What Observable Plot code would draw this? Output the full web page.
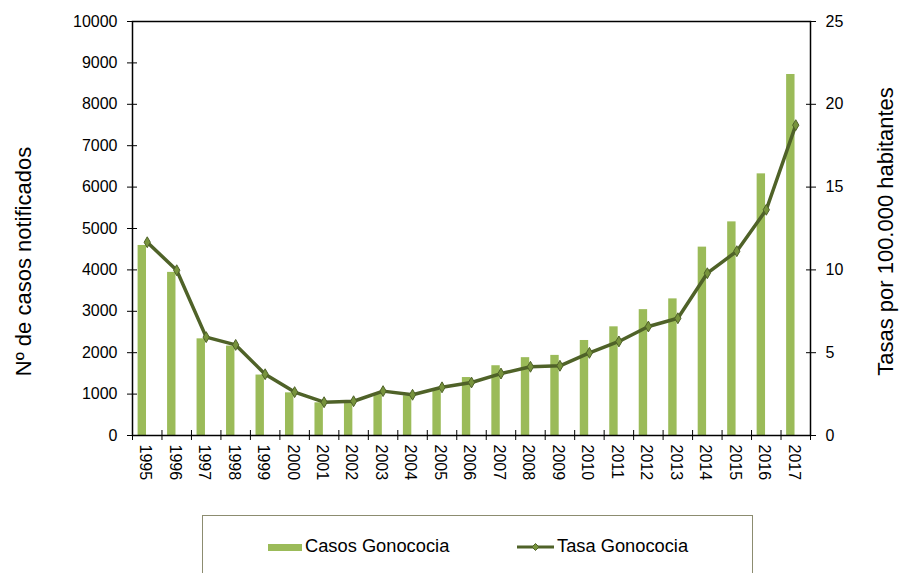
<!DOCTYPE html>
<html><head><meta charset="utf-8">
<script src="https://cdn.jsdelivr.net/npm/d3@7"></script>
<script src="https://cdn.jsdelivr.net/npm/@observablehq/plot@0.6"></script>
<style>
body{margin:0;background:#fff;font-family:"Liberation Sans",Arial,sans-serif;}
#wrap{position:relative;width:901px;height:573px;overflow:hidden;background:#fff}
#legend{position:absolute;left:202px;top:515px;width:551px;height:80px;border:1px solid #8c8c70;box-sizing:border-box}
.lg{position:absolute;font-size:18.3px;color:#000;white-space:nowrap;line-height:20px;display:flex;align-items:center}
</style></head><body><div id="wrap"></div>
<script>
const years = [1995,1996,1997,1998,1999,2000,2001,2002,2003,2004,2005,2006,2007,2008,2009,2010,2011,2012,2013,2014,2015,2016,2017];
const cases = [4590,3940,2335,2160,1460,1030,790,800,1010,960,1090,1400,1685,1880,1935,2295,2625,3040,3300,4550,5160,6320,8720];
const rates = [11.67,9.98,5.94,5.47,3.70,2.62,2.01,2.07,2.68,2.46,2.91,3.20,3.74,4.15,4.21,4.99,5.68,6.58,7.08,9.80,11.13,13.63,18.74];
const leftTicks = [0,1000,2000,3000,4000,5000,6000,7000,8000,9000,10000];
const rightTicks = [0,5,10,15,20,25];
const leftTitle = "Nº de casos notificados";
const rightTitle = "Tasas por 100.000 habitantes";
const seriesNames = ["Casos Gonococia","Tasa Gonococia"];

const K = 400; // right axis (0–25) mapped onto left axis (0–10000)
const data = years.map((year, i) => ({year, cases: cases[i], rate: rates[i]}));
const boundaries = [...years.map(y => y - 0.5), years[years.length - 1] + 0.5];
const barColor = "#9BBB59", lineColor = "#4F6228", dotFill = "#77933C";

const chart = Plot.plot({
  width: 901, height: 573,
  marginLeft: 132, marginRight: 91, marginTop: 21, marginBottom: 138,
  style: {fontFamily: "Liberation Sans, Arial, sans-serif", background: "white", color: "#000", overflow: "visible"},
  x: {type: "linear", domain: [1994.5, 2017.5]},
  y: {domain: [0, 10000]},
  marks: [
    Plot.rectY(data, {x1: d => d.year - 0.31, x2: d => d.year - 0.025, y: "cases", fill: barColor}),
    Plot.line(data, {x: "year", y: d => d.rate * K, stroke: lineColor, strokeWidth: 3.5}),
    Plot.dot(data, {x: "year", y: d => d.rate * K, symbol: "diamond", r: 3.3, fill: dotFill, stroke: lineColor, strokeWidth: 1}),
    Plot.frame({stroke: "#000", strokeWidth: 1.5}),
    Plot.axisY({anchor: "left", ticks: leftTicks, tickFormat: d => String(d), tickSize: 10, dx: 5, tickPadding: 10, fontSize: 16, label: null}),
    Plot.axisY({anchor: "right", ticks: rightTicks.map(v => v * K), tickFormat: d => String(d / K), tickSize: 10, dx: -5, tickPadding: 10, fontSize: 16, label: null}),
    Plot.axisX({anchor: "bottom", ticks: boundaries, tickSize: 10, dy: -5, tickFormat: () => "", label: null}),
    Plot.axisX({anchor: "bottom", ticks: years, tickSize: 0, tickRotate: 90, tickPadding: 9, tickFormat: d => String(d), fontSize: 16, dx: -2, label: null}),
    Plot.text([leftTitle], {frameAnchor: "left", textAnchor: "middle", rotate: -90, dx: -109, dy: 33, fontSize: 22, fill: "#000"}),
    Plot.text([rightTitle], {frameAnchor: "right", textAnchor: "middle", rotate: -90, dx: 75, dy: 3, fontSize: 22, fill: "#000"})
  ]
});
const wrap = document.getElementById("wrap");
wrap.appendChild(chart);

// legend (HTML, over the lower part of the page)
const legend = document.createElement("div");
legend.id = "legend";
wrap.appendChild(legend);
function addItem(html, left, top) {
  const el = document.createElement("div");
  el.className = "lg"; el.style.left = left + "px"; el.style.top = top + "px";
  el.innerHTML = html; wrap.appendChild(el);
}
addItem(`<span style="display:inline-block;width:34px;height:7px;background:${barColor};margin-right:3px;margin-top:3px"></span>${seriesNames[0]}`, 268, 536);
addItem(`<svg width="37" height="12" style="margin-right:3px;margin-top:2px"><line x1="0" y1="6" x2="37" y2="6" stroke="${lineColor}" stroke-width="3"/><path d="M18.5,2.5 L22,6 L18.5,9.5 L15,6Z" fill="${dotFill}" stroke="${lineColor}" stroke-width="1"/></svg>${seriesNames[1]}`, 517, 536);
</script></body></html>
